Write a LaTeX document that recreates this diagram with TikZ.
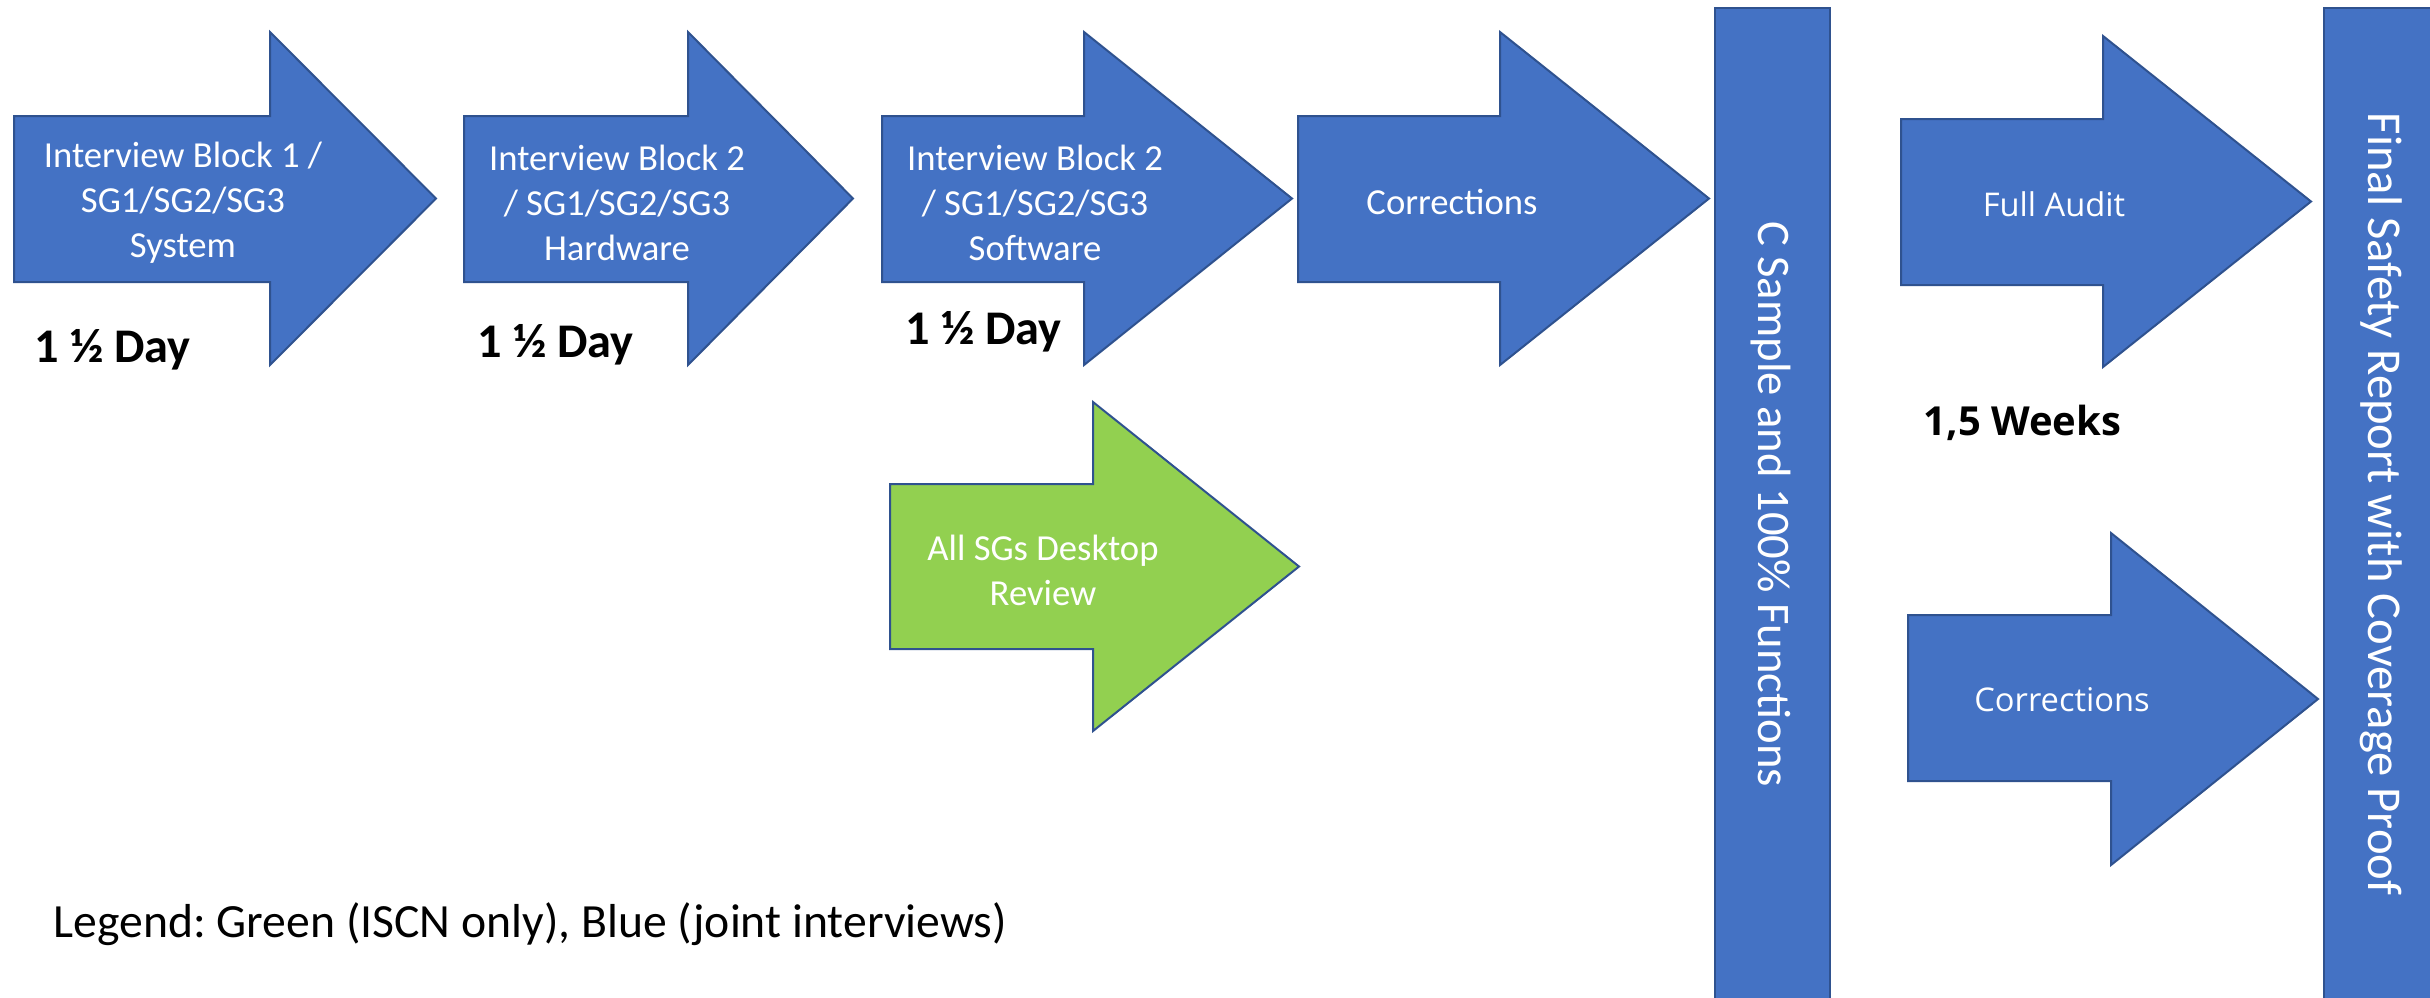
\documentclass[tikz,border=0pt]{standalone}
\usepackage{fontspec}
\setmainfont{Carlito}
\newfontfamily\osans{Open Sans}
\definecolor{ablue}{HTML}{4472C4}
\definecolor{aedge}{HTML}{2F528F}
\definecolor{agreen}{HTML}{92D050}
\newcommand\myarrow[9]{% name, fill, x0, xh, xt, bodytop, bodybot, headtop, headbot
  \path[arrowshape,fill=#2] (#3,#6) -- (#4,#6) -- (#4,#8) -- (#5,{(#8+#9)/2}) coordinate (#1-tip) -- (#4,#9) -- (#4,#7) -- (#3,#7) -- cycle;}
\frenchspacing
\begin{document}
\begin{tikzpicture}[x=0.3pt,y=-0.3pt,
  arrowshape/.style={draw=aedge,line width=0.6pt,line join=miter},
  bar/.style={draw=aedge,fill=ablue,line width=0.6pt},
  intext/.style={text=white,align=center,inner sep=0pt,font=\fontsize{11}{13.5}\selectfont},
  rtext/.style={text=white,inner sep=0pt,font=\osans\fontsize{9.8}{12}\selectfont},
  dur/.style={inner sep=0pt,anchor=base west,font=\bfseries\fontsize{14.5}{17}\selectfont},
  vtext/.style={text=white,inner sep=0pt,rotate=-90}]
\useasboundingbox (0,0) rectangle (2430,997);
\clip (0,0) rectangle (2430,997);
% arrows
\myarrow{a1}{ablue}{14}{270}{436}{116}{282}{32}{365}
\myarrow{a2}{ablue}{464}{688}{853}{116}{282}{32}{365}
\myarrow{a3}{ablue}{882}{1084}{1292}{116}{282}{32}{365}
\myarrow{a4}{ablue}{1298}{1500}{1709}{116}{282}{32}{365}
\myarrow{g1}{agreen}{890}{1093}{1299}{484}{649}{402}{731}
\myarrow{fa}{ablue}{1901}{2103}{2311}{119}{285}{36}{367}
\myarrow{c2}{ablue}{1908}{2111}{2318}{615}{781}{533}{865}
% bars
\draw[bar] (1715,8) rectangle (1830,1010);
\draw[bar] (2324,8) rectangle (2445,1010);
% texts
\node[intext] (t1) at (183,203) {Interview Block 1 /\\SG1/SG2/SG3\\System};
\node[intext] (t2) at (617,203) {Interview Block 2\\/ SG1/SG2/SG3\\Hardware};
\node[intext] (t3) at (1035,203) {Interview Block 2\\/ SG1/SG2/SG3\\Software};
\node[intext] (t4) at (1452,202) {Corrections};
\node[intext] (tg) at (1043,570) {All SGs Desktop\\Review};
\node[rtext] (tfa) at (2054,204) {Full Audit};
\node[rtext] (tc2) at (2062,700) {Corrections};
\node[dur] (d1) at (34,362) {1 ½ Day};
\node[dur] (d2) at (477,357) {1 ½ Day};
\node[dur] (d3) at (905,344) {1 ½ Day};
\node[inner sep=0pt,anchor=base west,font=\osans\bfseries\fontsize{12}{14}\selectfont] (w) at (1923,435) {1,5 Weeks};
\node[vtext,font=\fontsize{14}{16}\selectfont] (cs) at (1771,504) {C Sample and 100\% Functions};
\node[vtext,font=\fontsize{14.6}{17}\selectfont] (fs) at (2381,504) {Final Safety Report with Coverage Proof};
\node[inner sep=0pt,anchor=base west,font=\fontsize{14.3}{17}\selectfont] (lg) at (53,937) {Legend: Green (ISCN only), Blue (joint interviews)};
\end{tikzpicture}
\end{document}
